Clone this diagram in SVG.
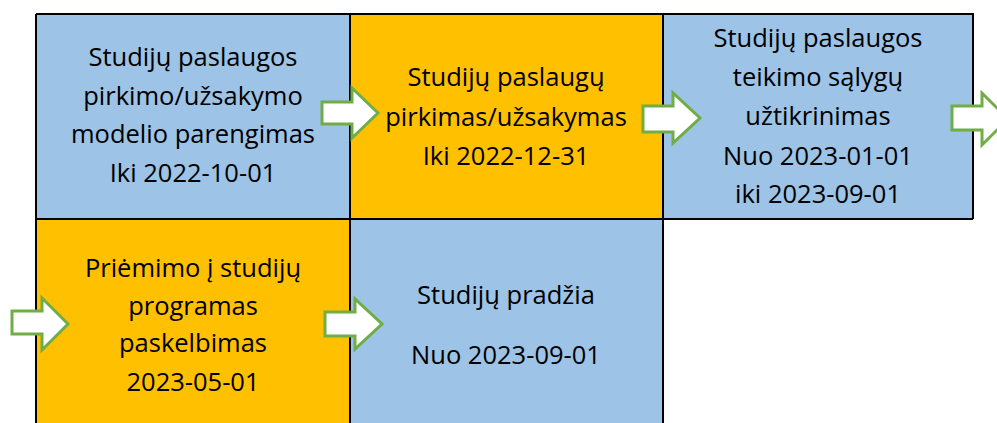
<svg xmlns="http://www.w3.org/2000/svg" width="997" height="423" viewBox="0 0 997 423">
<style>
.blue{fill:#9DC3E6}
.orange{fill:#FFC000}
.grid{stroke:#000;stroke-width:2;fill:none}
.t{font-family:"Open Sans","Noto Sans",sans-serif;font-size:25.5px;fill:#000;text-anchor:middle}
.arr{fill:#fff;stroke:#70AD47;stroke-width:3;stroke-linejoin:miter}
</style>
<rect width="997" height="423" fill="#fff"/>
<g id="node1">
<rect class="blue" x="36" y="14" width="314" height="205"/>
<text class="t" x="193" y="66">Studijų paslaugos</text>
<text class="t" x="193" y="104.5">pirkimo/užsakymo</text>
<text class="t" x="193" y="143">modelio parengimas</text>
<text class="t" x="193" y="181.5">Iki 2022-10-01</text>
</g>
<g id="node2">
<rect class="orange" x="350" y="14" width="313" height="205"/>
<text class="t" x="506" y="86">Studijų paslaugų</text>
<text class="t" x="506" y="125.5">pirkimas/užsakymas</text>
<text class="t" x="506" y="165">Iki 2022-12-31</text>
</g>
<g id="node3">
<rect class="blue" x="663" y="14" width="310" height="205"/>
<text class="t" x="818" y="47">Studijų paslaugos</text>
<text class="t" x="818" y="86">teikimo sąlygų</text>
<text class="t" x="818" y="125">užtikrinimas</text>
<text class="t" x="818" y="164.5">Nuo 2023-01-01</text>
<text class="t" x="818" y="203">iki 2023-09-01</text>
</g>
<g id="node4">
<rect class="orange" x="36" y="219" width="314" height="204"/>
<text class="t" x="193" y="277">Priėmimo į studijų</text>
<text class="t" x="193" y="314.5">programas</text>
<text class="t" x="193" y="352">paskelbimas</text>
<text class="t" x="193" y="391">2023-05-01</text>
</g>
<g id="node5">
<rect class="blue" x="350" y="219" width="313" height="204"/>
<text class="t" x="506" y="304">Studijų pradžia</text>
<text class="t" x="506" y="364">Nuo 2023-09-01</text>
</g>
<g id="gridlines">
<path class="grid" d="M36,14 H973 V219 M36,14 V423 M350,14 V423 M663,14 V423 M36,219 H973"/>
</g>
<g id="connectors">
<path class="arr" d="M322,102 H352 V88 L378,113 L352,138 V124 H322 Z"/>
<path class="arr" d="M643,106 H673 V93 L700,118 L673,143 V132 H643 Z"/>
<path class="arr" d="M952,106 H982 V93 L1008,119 L982,145 V130 H952 Z"/>
<path class="arr" d="M12,311 H42 V298 L68,324 L42,350 V334 H12 Z"/>
<path class="arr" d="M325,312 H355 V299 L382,324 L355,349 V336 H325 Z"/>
</g>
</svg>
